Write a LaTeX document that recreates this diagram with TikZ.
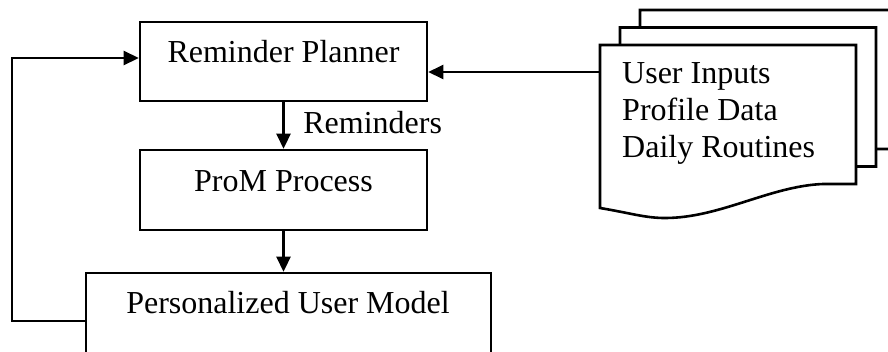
\documentclass[tikz,border=0pt]{standalone}
\usepackage{fontspec}
\setmainfont{Liberation Serif}
\usetikzlibrary{arrows.meta}
\tikzset{
    blk/.style={draw, line width=2.6pt, inner sep=0pt},
    txt/.style={inner sep=0pt, anchor=base},
    flow/.style={line width=2.6pt, -{Triangle[length=15pt, width=14pt]}},
    page/.style={draw, fill=white, line width=2.6pt}
}
\begin{document}
\begin{tikzpicture}[x=1pt, y=-1pt, font=\fontsize{32}{37}\selectfont]
            \useasboundingbox (0, 0) rectangle (888, 351);
            \clip (0, 0) rectangle (888, 351);
            % boxes
            \node[blk, minimum width=287pt, minimum height=79pt] (planner) at (283.5, 61.5) {};
            \node[txt] (plannertxt) at (283.5, 62) {Reminder Planner};
            \node[blk, minimum width=287pt, minimum height=80pt] (prom) at (283.5, 190) {};
            \node[txt] (promtxt) at (283.5, 191) {ProM Process};
            \node[blk, minimum width=405pt, minimum height=96pt] (model) at (288.5, 321) {};
            \node[txt] (modeltxt) at (288, 313) {Personalized User Model};
            % stacked documents
            \foreach \s in {2, 1, 0}
                \draw[page, shift={(\s*20, -\s*17.5)}]
                    (600, 45) -- (600, 208)
                    .. controls (630, 213) and (645, 218) .. (665, 218)
                    .. controls (720, 218) and (770, 186) .. (823, 184)
                    -- (856, 184) -- (856, 45) -- cycle;
            \node[txt, anchor=base west] (inputs) at (622, 83) {User Inputs};
            \node[txt, anchor=base west] (profile) at (622, 120) {Profile Data};
            \node[txt, anchor=base west] (routines) at (622, 157) {Daily Routines};
            % connectors
            \coordinate (docin) at (600, 72);
            \coordinate (loop) at (12, 58);
            \draw[flow] (docin) -- (docin -| planner.east);
            \draw[flow] (planner) -- (prom)
                node[txt, anchor=base west] (remlbl) at (302, 133) {Reminders};
            \draw[flow] (prom) -- (prom.south |- model.north);
            \draw[flow] (model.west) -| (loop) -- (loop -| planner.west);
        \end{tikzpicture}
\end{document}
